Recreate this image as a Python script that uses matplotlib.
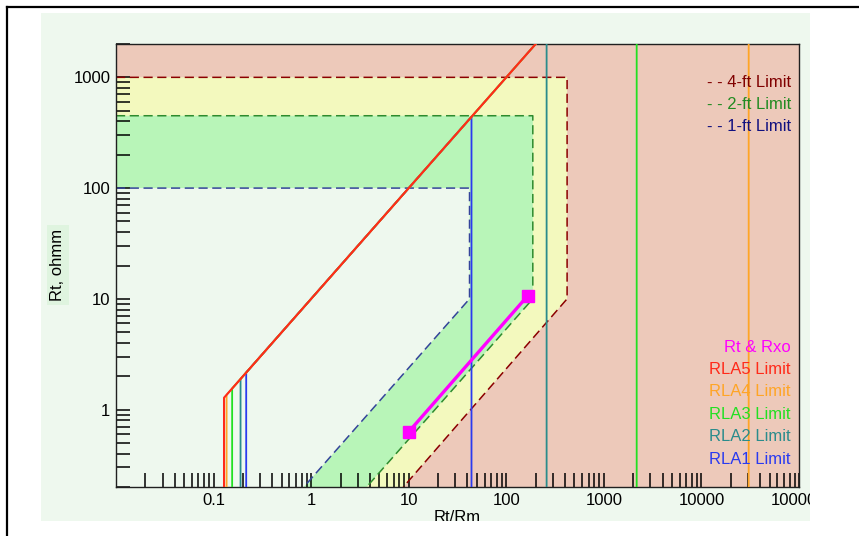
import matplotlib
matplotlib.use("Agg")
import matplotlib.pyplot as plt
from matplotlib.patches import Rectangle
from matplotlib.lines import Line2D
from matplotlib.ticker import FixedLocator, FixedFormatter, NullFormatter

# ============================================================
# DATA
# ============================================================
RATIO_RANGE = (0.01, 100000)   # Rt/Rm
RT_RANGE = (0.2, 2000)         # Rt, ohmm

# invasion depth limits: flat Rt cap, Rt/Rm cap, knee, lower diagonal
depth_labels = ["4-ft Limit", "2-ft Limit", "1-ft Limit"]
depth_rt_cap = [1000, 450, 100]
depth_ratio_cap = [420, 187, 42]
depth_knee_rt = [10, 10, 10]
depth_ratio_floor = [8.8, 3.7, 0.84]

# resistivity tool limits (RLA5 .. RLA1)
rla_labels = ["RLA5 Limit", "RLA4 Limit", "RLA3 Limit", "RLA2 Limit", "RLA1 Limit"]
rla_ratio_lo = [0.128, 0.136, 0.155, 0.189, 0.216]
rla_rt_lo = [1.28, 1.36, 1.55, 1.89, 2.16]
rla_ratio_hi = [400000, 30500, 2170, 259, 44]
rla_rt_hi = [4000000, 305000, 21700, 2590, 440]

# measured point pair
rt_rxo_ratio = [10, 165]
rt_rxo_rt = [0.63, 10.6]

x_major = [0.1, 1, 10, 100, 1000, 10000, 100000]
x_major_labels = ["0.1", "1", "10", "100", "1000", "10000", "100000"]
y_major = [1, 10, 100, 1000]
y_major_labels = ["1", "10", "100", "1000"]

# ============================================================
# STYLE
# ============================================================
PANEL = "#EEF8EE"
ZONE_OUT = "#EDC9BA"
ZONE_COLORS = ["#F3F9BE", "#B8F5B8", PANEL]
DEPTH_LINE = ["#8B0000", "#2E8B2E", "#34449A"]
DEPTH_TEXT = ["#800000", "#228B22", "#101080"]
RLA_COLORS = ["#FF2A1A", "#FFA526", "#22E022", "#2A8C8C", "#2A3AF0"]
MAGENTA = "#FF00FF"
FS = 12

plt.rcParams["font.family"] = ["Liberation Sans", "DejaVu Sans"]
plt.rcParams["font.size"] = FS

W, H = 859, 536
fig = plt.figure(figsize=(W / 100, H / 100), dpi=100, facecolor="white")

# light panel behind the chart
fig.patches.append(Rectangle((41 / W, 1 - 521 / H), 769 / W, 508 / H,
                             transform=fig.transFigure, facecolor=PANEL,
                             edgecolor="none", zorder=-10))

ax = fig.add_axes([116 / W, 1 - 487 / H, 683 / W, 443 / H])
ax.set_xscale("log")
ax.set_yscale("log")
ax.set_xlim(*RATIO_RANGE)
ax.set_ylim(*RT_RANGE)
ax.set_facecolor(ZONE_OUT)

# shaded zones, outermost first
for i in range(len(depth_labels)):
    xs = [RATIO_RANGE[0], RATIO_RANGE[0], depth_ratio_cap[i],
          depth_ratio_cap[i], depth_ratio_floor[i]]
    ys = [RT_RANGE[0], depth_rt_cap[i], depth_rt_cap[i],
          depth_knee_rt[i], RT_RANGE[0]]
    ax.fill(xs, ys, color=ZONE_COLORS[i], lw=0, zorder=1)

# dashed boundaries
for i in range(len(depth_labels)):
    xs = [RATIO_RANGE[0], depth_ratio_cap[i], depth_ratio_cap[i], depth_ratio_floor[i]]
    ys = [depth_rt_cap[i], depth_rt_cap[i], depth_knee_rt[i], RT_RANGE[0]]
    ax.plot(xs, ys, color=DEPTH_LINE[i], lw=1.1, dashes=(6, 3), zorder=2)

# tool limits, RLA1 drawn first so RLA5 sits on top
for i in reversed(range(len(rla_labels))):
    xs = [rla_ratio_lo[i], rla_ratio_lo[i], rla_ratio_hi[i], rla_ratio_hi[i]]
    ys = [RT_RANGE[0], rla_rt_lo[i], rla_rt_hi[i], RT_RANGE[0]]
    ax.plot(xs, ys, color=RLA_COLORS[i], lw=1.5 if i == 0 else 1.3, zorder=3)

ax.plot(rt_rxo_ratio, rt_rxo_rt, color=MAGENTA, lw=2.4, marker="s",
        markersize=9, zorder=4)

# ticks
ax.xaxis.set_major_locator(FixedLocator(x_major))
ax.xaxis.set_major_formatter(FixedFormatter(x_major_labels))
ax.yaxis.set_major_locator(FixedLocator(y_major))
ax.yaxis.set_major_formatter(FixedFormatter(y_major_labels))
ax.xaxis.set_minor_formatter(NullFormatter())
ax.yaxis.set_minor_formatter(NullFormatter())
ax.tick_params(which="both", direction="in", length=10, width=1.1,
               color="black", top=False, right=False)
ax.tick_params(axis="x", which="major", pad=4, labelsize=FS)
ax.tick_params(axis="y", which="major", pad=4, labelsize=FS)
for sp in ax.spines.values():
    sp.set_linewidth(1.0)
    sp.set_color("#202020")

# legend texts
legend_top = [("- - " + depth_labels[i], DEPTH_TEXT[i]) for i in range(3)]
for k, (txt, col) in enumerate(legend_top):
    ax.text(0.988, 0.914 - k * 0.0505, txt, color=col, ha="right", va="center",
            transform=ax.transAxes, fontsize=FS, zorder=6)

legend_bottom = [("Rt & Rxo", MAGENTA)] + list(zip(rla_labels, RLA_COLORS))
for k, (txt, col) in enumerate(legend_bottom):
    ax.text(0.988, 0.316 - k * 0.0506, txt, color=col, ha="right", va="center",
            transform=ax.transAxes, fontsize=FS, zorder=6)

# axis titles
fig.text(58 / W, 1 - 265 / H, "Rt, ohmm", rotation=90, ha="center", va="center",
         fontsize=FS, bbox=dict(facecolor="#DFF4DF", edgecolor="none", pad=2.5))
fig.text(457 / W, 1 - 518 / H, "Rt/Rm", ha="center", va="center", fontsize=FS)

# white margins clip the panel edges, then the outer frame
fig.patches.append(Rectangle((810 / W, 0), 1 - 810 / W, 1, transform=fig.transFigure,
                             facecolor="white", edgecolor="none", zorder=10))
fig.patches.append(Rectangle((0, 0), 1, 1 - 521 / H, transform=fig.transFigure,
                             facecolor="white", edgecolor="none", zorder=10))
fig.lines.append(Line2D([7 / W, 1], [1 - 7 / H, 1 - 7 / H], transform=fig.transFigure,
                        color="black", lw=1.6, zorder=11))
fig.lines.append(Line2D([7 / W, 7 / W], [0, 1 - 7 / H], transform=fig.transFigure,
                        color="black", lw=1.6, zorder=11))

fig.savefig("out.png", dpi=100)
